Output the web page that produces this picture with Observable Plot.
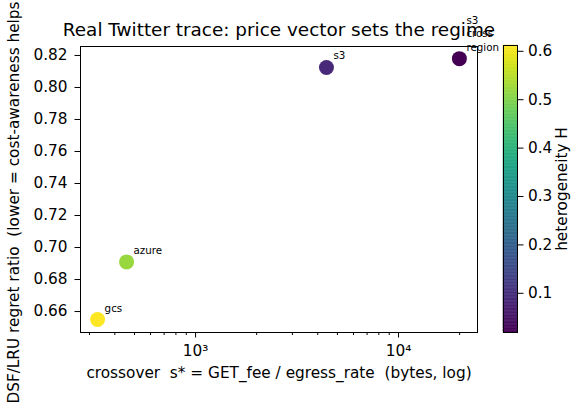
<!DOCTYPE html>
<html>
<head>
<meta charset="utf-8">
<script src="https://cdn.jsdelivr.net/npm/d3@7"></script>
<script src="https://cdn.jsdelivr.net/npm/@observablehq/plot@0.6"></script>
<style>
  html, body { margin: 0; padding: 0; background: #fff; }
  #chart { position: relative; width: 571px; height: 404px; overflow: hidden; }
  #chart svg { position: absolute; left: 0; top: 0; font-family: "DejaVu Sans", sans-serif; }
</style>
</head>
<body>
<div id="chart"></div>
<script>
// ---- data ----
const providers = ["gcs", "azure", "s3", "s3\ncross\nregion"];
const crossover = [329, 457, 4415, 19950];          // s* bytes (log x)
const regretRatio = [0.655, 0.691, 0.8125, 0.818];   // DSF/LRU regret ratio
const heterogeneity = [0.612, 0.52, 0.085, 0.019];   // colour value H
const yTicks = [0.66, 0.68, 0.70, 0.72, 0.74, 0.76, 0.78, 0.80, 0.82];
const xMajorTicks = [1000, 10000];
const xMinorTicks = [300, 400, 500, 600, 700, 800, 900, 2000, 3000, 4000, 5000, 6000, 7000, 8000, 9000, 20000];
const cbTicks = [0.1, 0.2, 0.3, 0.4, 0.5, 0.6];
const hDomain = [0.019, 0.612];

const title = "Real Twitter trace: price vector sets the regime";
const xLabel = "crossover \u00a0s* = GET_fee / egress_rate \u00a0(bytes, log)";
const yLabel = "GDSF/LRU regret ratio \u00a0(lower = cost-awareness helps)";
const cbLabel = "heterogeneity H";

const rows = providers.map((p, i) => ({
  name: p, x: crossover[i], y: regretRatio[i], h: heterogeneity[i]
}));

const sup = {"0":"\u2070","1":"\u00b9","2":"\u00b2","3":"\u00b3","4":"\u2074","5":"\u2075","6":"\u2076","7":"\u2077","8":"\u2078","9":"\u2079"};
const powFmt = d => "10" + String(Math.round(Math.log10(d))).split("").map(c => sup[c]).join("");

const colorOpts = {type: "linear", scheme: "viridis", domain: hDomain};
const FS = 15.3;

const main = Plot.plot({
  width: 571, height: 404,
  marginLeft: 80, marginRight: 94, marginTop: 46, marginBottom: 72,
  style: {fontFamily: "DejaVu Sans, sans-serif", fontSize: FS + "px", background: "transparent", color: "#000"},
  x: {type: "log", domain: [271, 24500]},
  y: {domain: [0.6469, 0.8256]},
  color: colorOpts,
  marks: [
    Plot.axisX({ticks: xMinorTicks, tickSize: 3, tickFormat: () => "", label: null}),
    Plot.axisX({ticks: xMajorTicks, tickSize: 5.5, tickPadding: 7, tickFormat: powFmt, fontSize: FS, label: null}),
    Plot.axisY({ticks: yTicks, tickSize: 5.5, tickPadding: 7.5, tickFormat: d3.format(".2f"), fontSize: FS, label: null}),
    Plot.frame({stroke: "#000", strokeWidth: 1}),
    Plot.dot(rows, {x: "x", y: "y", fill: "h", r: 7.5, stroke: null}),
    Plot.text(rows, {x: "x", y: "y", text: "name", textAnchor: "start", lineAnchor: "bottom",
      dx: 7, dy: -8, fontSize: 10.3, lineHeight: 1.28, fill: "#000"}),
    Plot.text([title], {frameAnchor: "top", dy: -16.5, fontSize: 18.4, fill: "#000", lineAnchor: "middle", textAnchor: "middle"}),
    Plot.text([xLabel], {frameAnchor: "bottom", dy: 41, fontSize: FS, fill: "#000", lineAnchor: "middle", textAnchor: "middle"}),
    Plot.text([yLabel], {frameAnchor: "left", dx: -66, dy: 16, rotate: -90, fontSize: FS, fill: "#000", lineAnchor: "middle", textAnchor: "middle"})
  ]
});

// colorbar: a gradient of thin stripes through the same viridis scale
const nStripes = 200;
const stripes = d3.range(nStripes).map(i => ({
  y1: hDomain[0] + (hDomain[1] - hDomain[0]) * i / nStripes,
  y2: hDomain[0] + (hDomain[1] - hDomain[0]) * (i + 1) / nStripes
}));
stripes.forEach(s => s.v = (s.y1 + s.y2) / 2);

const cbar = Plot.plot({
  width: 571, height: 404,
  marginLeft: 503, marginRight: 54, marginTop: 45, marginBottom: 72,
  style: {fontFamily: "DejaVu Sans, sans-serif", fontSize: FS + "px", background: "transparent", color: "#000"},
  x: {domain: [0, 1], axis: null},
  y: {domain: hDomain},
  color: colorOpts,
  marks: [
    Plot.rect(stripes, {x1: 0, x2: 1, y1: "y1", y2: "y2", fill: "v", inset: 0, stroke: "v", strokeWidth: 0.5}),
    Plot.frame({stroke: "#000", strokeWidth: 1}),
    Plot.axisY({anchor: "right", ticks: cbTicks, tickSize: 5.5, tickPadding: 5, tickFormat: d3.format(".1f"), fontSize: FS, label: null}),
    Plot.text([cbLabel], {frameAnchor: "right", dx: 45, rotate: -90, fontSize: FS, fill: "#000", lineAnchor: "middle", textAnchor: "middle"})
  ]
});

const el = document.getElementById("chart");
el.appendChild(main);
el.appendChild(cbar);
</script>
</body>
</html>
